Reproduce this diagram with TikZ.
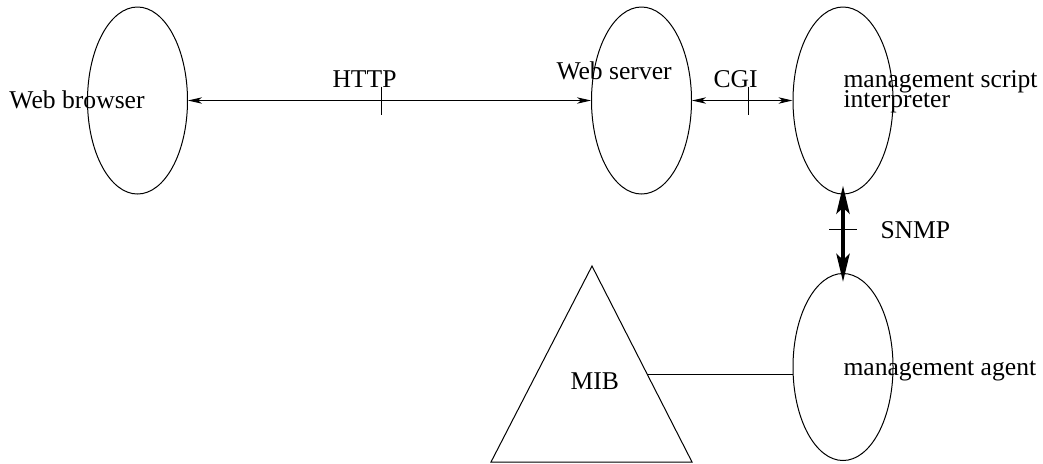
\documentclass[tikz,border=0pt]{standalone}
\usepackage{fontspec}
\setmainfont{Liberation Serif}
\usepackage{tikz}
\usetikzlibrary{arrows.meta,shapes.geometric}

\begin{document}
\begin{tikzpicture}[x=0.5pt,y=-0.5pt,line width=0.5pt,
  every node/.style={font={\fontsize{12.8pt}{10pt}\selectfont\lineskiplimit=-10pt\relax}},
  blob/.style={draw,ellipse,minimum width=50pt,minimum height=93.5pt,inner sep=0pt},
  tag/.style={anchor=base west,inner sep=0pt,align=left},
  thinlink/.style={{Stealth[length=7pt,width=3.2pt,inset=2pt]}-{Stealth[length=7pt,width=3.2pt,inset=2pt]}},
  fatlink/.style={line width=2.3pt,shorten <=-4.5pt,shorten >=-4.5pt,
    {Stealth[length=14pt,width=6.5pt,inset=3pt]}-{Stealth[length=14pt,width=6.5pt,inset=3pt]}}]
\useasboundingbox (0,0) rectangle (1043,463);
\node[blob] (browser) at (137.5,100.5) {};
\node[blob] (server) at (641.5,100.5) {};
\node[blob] (interp) at (843,100.5) {};
\node[blob] (agent) at (843,367) {};
\draw (592,266) -- (692,462) -- (491,462) -- cycle;
\coordinate (mibside) at (647.4,374);
\node[tag] (lbrowser) at (9,108) {Web browser};
\node[tag] (lhttp) at (332,87) {HTTP};
\node[tag] (lserver) at (556,79) {Web server};
\node[tag] (lcgi) at (713,87) {CGI};
\node[tag] (linterp) at (843,107) {management script\\interpreter};
\node[tag] (lsnmp) at (880,238) {SNMP};
\node[tag] (lmib) at (570,389) {MIB};
\node[tag] (lagent) at (843,375) {management agent};
\draw[thinlink] (browser) -- coordinate[pos=.481] (httpmark) (server);
\draw[thinlink] (server) -- coordinate[pos=.567] (cgimark) (interp);
\draw[fatlink] (interp) -- coordinate[pos=.45] (snmpmark) (agent);
\draw (mibside) -- (mibside -| agent.west);
\draw (httpmark) ++(0,-14) -- ++(0,28);
\draw (cgimark) ++(0,-14) -- ++(0,28);
\draw (snmpmark) ++(-14,0) -- ++(28,0);
\end{tikzpicture}
\end{document}
